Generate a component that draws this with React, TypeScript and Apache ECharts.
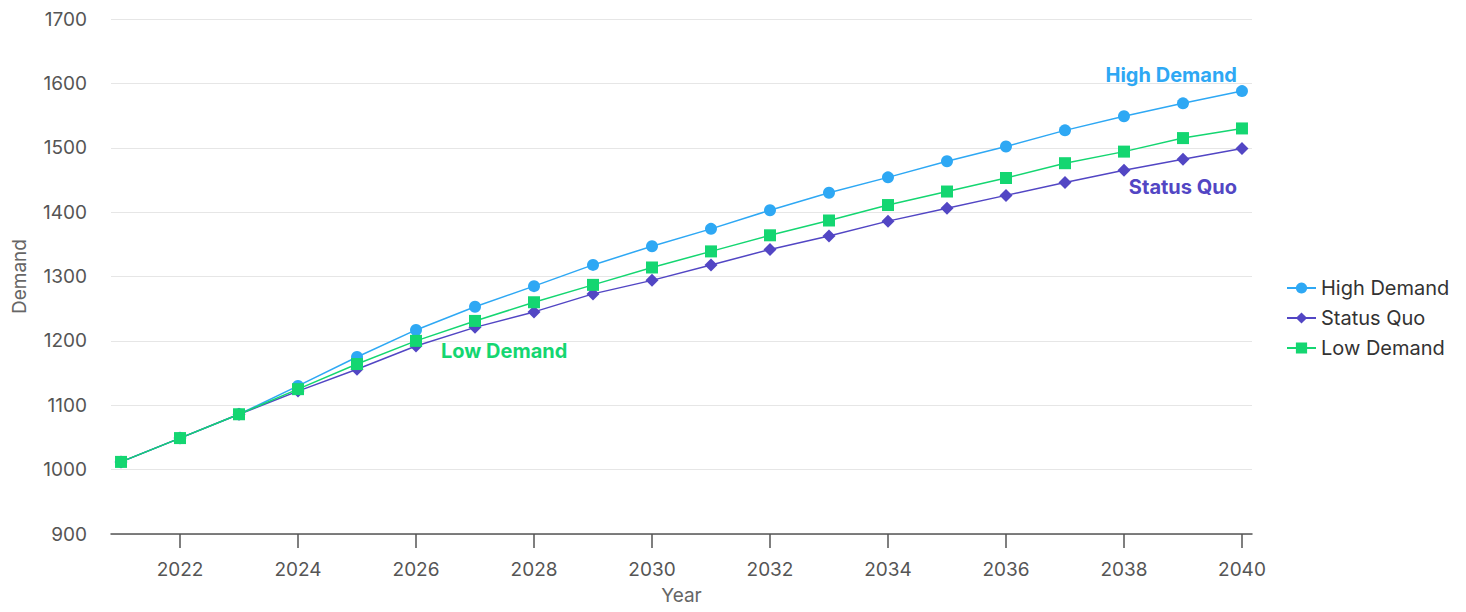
import React, { useEffect, useRef } from "react";
import * as echarts from "echarts";

const years = [2021, 2022, 2023, 2024, 2025, 2026, 2027, 2028, 2029, 2030, 2031, 2032, 2033, 2034, 2035, 2036, 2037, 2038, 2039, 2040];
const highDemand = [1012, 1049, 1086, 1130, 1175, 1217, 1253, 1285, 1318, 1347, 1374, 1403, 1430, 1454, 1479, 1502, 1527, 1549, 1569, 1588];
const statusQuo = [1012, 1049, 1086, 1122, 1156, 1192, 1221, 1245, 1273, 1294, 1318, 1342, 1363, 1386, 1406, 1426, 1446, 1465, 1482, 1499];
const lowDemand = [1012, 1049, 1086, 1125, 1164, 1200, 1231, 1260, 1287, 1314, 1339, 1364, 1387, 1411, 1432, 1453, 1476, 1494, 1515, 1530];
const xTicks = [2022, 2024, 2026, 2028, 2030, 2032, 2034, 2036, 2038, 2040];

const seriesNames = ["High Demand", "Status Quo", "Low Demand"];
const colors = ["#2ea8f4", "#5246c4", "#14d671"];
const FONT = "Inter, 'Noto Sans', sans-serif";

export default function App() {
  const ref = useRef<HTMLDivElement>(null);
  useEffect(() => {
    const chart = echarts.init(ref.current!, null, { renderer: "svg" });
    const mk = (vals: number[], idx: number, symbol: string, size: number, labelIdx: number, label: any) => ({
      name: seriesNames[idx],
      type: "line",
      symbol,
      symbolSize: size,
      showSymbol: true,
      z: 3 + idx,
      lineStyle: { width: 1.5, color: colors[idx] },
      itemStyle: { color: colors[idx] },
      data: vals.map((v, i) => {
        const d: any = { value: [years[i], v] };
        if (i === labelIdx) d.label = label;
        return d;
      }),
    });
    const labelStyle = (idx: number) => ({
      show: true,
      formatter: seriesNames[idx],
      color: colors[idx],
      fontFamily: FONT,
      fontWeight: "bold",
      fontSize: 20,
    });
    chart.setOption({
      animation: false,
      backgroundColor: "#ffffff",
      grid: { left: 103, right: 206, top: 11, bottom: 78, outerBoundsMode: "none" },
      legend: {
        orient: "vertical",
        left: 1273,
        top: 265,
        itemWidth: 29,
        itemHeight: 14,
        itemGap: 10,
        textStyle: { fontFamily: FONT, fontSize: 20, color: "#333" },
        data: seriesNames,
      },
      xAxis: {
        type: "value",
        min: 2020.83,
        max: 2040.17,
        name: "Year",
        nameLocation: "middle",
        nameGap: 52,
        nameTextStyle: { fontFamily: FONT, fontSize: 19, color: "#666" },
        splitLine: { show: false },
        axisLine: { show: true, lineStyle: { color: "#555", width: 1.5 } },
        axisTick: { show: true, length: 14, lineStyle: { color: "#555", width: 1.5 }, customValues: xTicks },
        axisLabel: { fontFamily: FONT, fontSize: 19, color: "#555", margin: 26, customValues: xTicks, formatter: (v: number) => String(v) },
      },
      yAxis: {
        type: "value",
        min: 900,
        max: 1700,
        interval: 100,
        name: "Demand",
        nameLocation: "middle",
        nameGap: 82,
        nameTextStyle: { fontFamily: FONT, fontSize: 19, color: "#666" },
        axisLine: { show: false },
        axisTick: { show: false },
        splitLine: { lineStyle: { color: "#e6e6e6", width: 1 } },
        axisLabel: { fontFamily: FONT, fontSize: 19, color: "#555", margin: 24, formatter: (v: number) => String(v) },
      },
      series: [
        mk(statusQuo, 1, "diamond", 13, 19, { ...labelStyle(1), position: "bottom", align: "right", offset: [-5, 17] }),
        mk(lowDemand, 2, "rect", 12, 5, { ...labelStyle(2), position: "right", align: "left", offset: [14, 10] }),
        mk(highDemand, 0, "circle", 12, 19, { ...labelStyle(0), position: "top", align: "right", offset: [-5, 5] }),
      ],
    });
    return () => chart.dispose();
  }, []);
  return <div ref={ref} style={{ width: 1450, height: 604, marginBottom: -8 }} />;
}
